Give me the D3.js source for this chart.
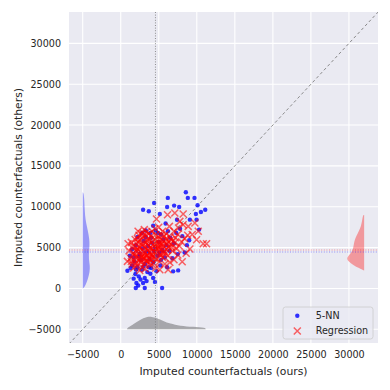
<!DOCTYPE html>
<html>
<head>
<meta charset="utf-8">
<script src="https://cdn.jsdelivr.net/npm/d3@7"></script>
<style>
  html, body { margin: 0; padding: 0; background: #fff; }
  svg { display: block; font-family: "DejaVu Sans", sans-serif; }
</style>
</head>
<body>
<script>
// scatter: imputed counterfactuals, ours (x) vs others (y)
const knnPoints = [
  [8560,11770],[8820,11080],[9700,11080],[6190,11080],[4390,10460],[7020,10140],[7680,9970],[6100,9970],
  [10100,10180],[11110,9640],[10540,9360],[2940,9640],[3690,9440],[5140,9110],[9880,9110],[9090,8420],
  [9970,8420],[4260,7680],[5900,7950],[10300,7200],[7400,8400],
  [880,2170],[1930,1760],[2370,1470],[3160,1270],[4260,1270],[2060,660],[2940,660],[1980,45],[3160,45],
  [5440,45],[6890,2090],[7550,2210],[3500,2000],[2800,2300],[4000,2500],[1500,2800],[2200,2600],[3900,1800],
  [4700,2100],[2600,1100],[3400,900],[1700,1200],[4500,800],[2300,350],
  [1500,4800],[2000,5300],[2500,4200],[3000,5800],[3500,4500],[4000,6200],[4500,5000],[5000,5700],[5500,4700],
  [6000,5300],[6500,6200],[7000,5500],[2700,3500],[3200,3000],[3800,3600],[4300,3200],[4800,4000],[5300,3500],
  [5800,3800],[1800,3300],[2200,6300],[2800,6800],[3300,7100],[3900,6800],[4600,7100],[5300,6600],[6200,7000],
  [7300,6800],[8100,6400],[7500,4200],[8400,4400],[6800,3700],[1200,4000],[9000,5900],[4100,5600],[3600,5200],
  [2400,3900],[5100,4400],[6400,4600],[2000,2300],[1300,2500],[3000,2700],[3700,2600],[5200,2800],[6100,2600],
  [1700,3800],[4400,4600],[5600,6000],[2900,4900],[7800,7300],[8700,5300],[3300,6300],[4900,6800]
];
const regressionPoints = [
  [966,5470],[1400,5640],[2280,6990],[2940,6790],[4700,8500],[6150,9030],[7110,9240],[8210,9110],[7770,8210],
  [8870,7600],[9750,8010],[10190,6990],[9970,5970],[10840,5480],[11280,5480],[9090,4830],[8080,3270],[6450,3190],
  [6230,2290],[5140,2290],[880,3310],[4040,4130],
  [1500,3000],[1800,3500],[2000,4000],[2200,4500],[2500,5000],[2700,3200],[3000,3800],[3200,4300],[3400,4800],
  [3600,5300],[3800,5800],[4000,3500],[4200,4000],[4400,4500],[4600,5000],[4800,5500],[5000,6000],[5200,4200],
  [5400,4700],[5600,5200],[5800,5600],[6000,6100],[6300,5000],[6600,5400],[6900,5800],[7200,6200],[7500,6600],
  [1600,4300],[1900,5100],[2300,5700],[2600,6000],[2900,6300],[3300,6500],[3700,6700],[4100,7000],[4500,7300],
  [5000,7500],[5500,7000],[6000,6700],[2100,2800],[2400,3400],[2800,2600],[3100,3000],[3500,3300],[3900,2800],
  [4300,3100],[4700,3600],[5100,3300],[5500,3800],[5900,4300],[6200,4000],[6800,4600],[7300,4900],[7700,5200],
  [8000,5700],[8400,6100],[8800,6500],[1300,3700],[1100,4600],[1700,2500],[2000,3100],[3000,4600],[3300,5600],
  [3500,4100],[3700,3700],[4100,4900],[4300,5400],[4500,6000],[4900,6400],[5300,6500],[5700,4600],[6100,5400],
  [6500,6300],[7000,7000],[7600,7400],[8200,7800],[2500,2200],[3200,2400],[4600,2500],[5800,3000],[4000,6400],
  [3600,6100],[2700,5400],[2200,4800],[1900,6000],[2400,6500],[3100,7200],[6400,7600],[7000,3500],[7500,4100],
  [8600,4300],[9400,6600],[3800,4400],[4800,4700],[5400,5500],[2900,3600],[3300,3400],[4400,3700],
  [1400,3300],[1800,4200],[2100,3700],[2300,5200],[2600,4500],[2800,3900],[3100,5100],[3400,4000],[3600,4700],
  [3900,5000],[4200,5800],[4400,5200],[4700,4300],[5000,4900],[5200,5300],[5500,5900],[5700,6400],[6000,4800],
  [6300,5700],[6600,6000],[2000,4600],[2500,3700],[2900,4200],[3200,3600],[3500,5800],[3800,3200],[4100,3800],
  [4600,6600],[5100,5600],[5600,4300],[1600,5200],[2200,6100],[2700,6700],[3000,5400],[3400,6900],[4200,4500],
  [4900,5100],[5300,4000],[6700,5000],[7100,5600]
];

// mean reference lines
const oursMean = 4566;
const knnMean = 4460;
const regressionMean = 4706;

// marginal densities: [value, width in data units]
const knnDensity = [
  [11760,0],[11700,120],[11000,200],[10000,250],[9000,300],[8000,440],[7000,700],[6000,880],[5300,900],
  [4500,830],[3600,790],[2800,960],[2000,920],[1200,700],[500,420],[100,180],[0,0]
];
const knnDensityBase = -5000;
const regressionDensity = [
  [9000,0],[8950,200],[7560,350],[6340,1100],[5530,1360],[4710,1450],[4100,1970],[3700,2320],[3280,2060],
  [2880,1450],[2470,660],[2180,0]
];
const regressionDensityBase = 32000;
const oursDensity = [
  [790,0],[1000,250],[1660,610],[2540,1180],[3420,1510],[4070,1550],[4730,1390],[5600,1020],[6480,690],
  [7790,410],[9540,290],[11170,200],[11170,0]
];
const oursDensityBase = -5000;

const ticks = [-5000, 0, 5000, 10000, 15000, 20000, 25000, 30000];
const xDomain = [-6800, 33820];
const yDomain = [-6680, 33840];

const W = 390, H = 390;
const m = { left: 69, right: 12, top: 12, bottom: 47 };

const svg = d3.select("body").append("svg").attr("width", W).attr("height", H);

const x = d3.scaleLinear().domain(xDomain).range([m.left, W - m.right]);
const y = d3.scaleLinear().domain(yDomain).range([H - m.bottom, m.top]);

// background + grid
svg.append("rect")
  .attr("x", m.left).attr("y", m.top)
  .attr("width", W - m.left - m.right).attr("height", H - m.top - m.bottom)
  .attr("fill", "#eaeaf2");

svg.append("defs").append("clipPath").attr("id", "plot")
  .append("rect")
  .attr("x", m.left).attr("y", m.top)
  .attr("width", W - m.left - m.right).attr("height", H - m.top - m.bottom);

const grid = svg.append("g");
grid.selectAll(".gx").data(ticks).join("line")
  .attr("x1", d => x(d)).attr("x2", d => x(d))
  .attr("y1", m.top).attr("y2", H - m.bottom)
  .attr("stroke", "#fff").attr("stroke-width", 1.1);
grid.selectAll(".gy").data(ticks).join("line")
  .attr("y1", d => y(d)).attr("y2", d => y(d))
  .attr("x1", m.left).attr("x2", W - m.right)
  .attr("stroke", "#fff").attr("stroke-width", 1.1);

// axes (labels only, seaborn style)
const fmt = d => d3.format("d")(d).replace("-", "\u2212");
const xAxis = svg.append("g")
  .attr("transform", `translate(0,${H - m.bottom})`)
  .call(d3.axisBottom(x).tickValues(ticks).tickSize(0).tickPadding(8).tickFormat(fmt));
const yAxis = svg.append("g")
  .attr("transform", `translate(${m.left},0)`)
  .call(d3.axisLeft(y).tickValues(ticks).tickSize(0).tickPadding(8).tickFormat(fmt));
[xAxis, yAxis].forEach(a => {
  a.select(".domain").remove();
  a.selectAll("text").attr("fill", "#262626").attr("font-size", 9.6).attr("font-family", "DejaVu Sans");
});

svg.append("text")
  .attr("x", (m.left + W - m.right) / 2).attr("y", 375)
  .attr("text-anchor", "middle").attr("font-size", 10.8).attr("fill", "#262626")
  .text("Imputed counterfactuals (ours)");
svg.append("text")
  .attr("transform", `translate(22,${(m.top + H - m.bottom) / 2}) rotate(-90)`)
  .attr("text-anchor", "middle").attr("font-size", 10.8).attr("fill", "#262626")
  .text("Imputed counterfactuals (others)");

const plot = svg.append("g").attr("clip-path", "url(#plot)");

// marginal densities
const vArea = base => d3.area()
  .y(d => y(d[0]))
  .x0(x(base))
  .x1(d => x(base) + (x(d[1]) - x(0)) * (base > 0 ? -1 : 1))
  .curve(d3.curveBasis);
plot.append("path").datum(knnDensity)
  .attr("d", vArea(knnDensityBase)).attr("fill", "#0000ff").attr("fill-opacity", 0.35);
plot.append("path").datum(regressionDensity)
  .attr("d", vArea(regressionDensityBase)).attr("fill", "#ff0000").attr("fill-opacity", 0.35);
plot.append("path").datum(oursDensity)
  .attr("d", d3.area()
    .x(d => x(d[0]))
    .y0(y(oursDensityBase))
    .y1(d => y(oursDensityBase) - (y(0) - y(d[1])))
    .curve(d3.curveBasis))
  .attr("fill", "#555555").attr("fill-opacity", 0.45);

// diagonal
plot.append("line")
  .attr("x1", x(xDomain[0])).attr("y1", y(xDomain[0]))
  .attr("x2", x(yDomain[1])).attr("y2", y(yDomain[1]))
  .attr("stroke", "#7f7f7f").attr("stroke-width", 0.9).attr("stroke-dasharray", "3,2.5");

// scatter
plot.append("g").selectAll("circle").data(knnPoints).join("circle")
  .attr("cx", d => x(d[0])).attr("cy", d => y(d[1])).attr("r", 2.2)
  .attr("fill", "#0000ff").attr("fill-opacity", 0.8);

const s = 3.5;
plot.append("g").selectAll("path").data(regressionPoints).join("path")
  .attr("d", d => {
    const cx = x(d[0]), cy = y(d[1]);
    return `M${cx - s},${cy - s}L${cx + s},${cy + s}M${cx - s},${cy + s}L${cx + s},${cy - s}`;
  })
  .attr("stroke", "#ff0000").attr("stroke-opacity", 0.6).attr("stroke-width", 1.5);

// mean lines
plot.append("line")
  .attr("x1", x(oursMean)).attr("x2", x(oursMean)).attr("y1", m.top).attr("y2", H - m.bottom)
  .attr("stroke", "#777").attr("stroke-width", 0.8).attr("stroke-dasharray", "1,1.6");
plot.append("line")
  .attr("y1", y(regressionMean)).attr("y2", y(regressionMean)).attr("x1", m.left).attr("x2", W - m.right)
  .attr("stroke", "#ff0000").attr("stroke-opacity", 0.5).attr("stroke-width", 0.8).attr("stroke-dasharray", "1,1.6");
plot.append("line")
  .attr("y1", y(knnMean)).attr("y2", y(knnMean)).attr("x1", m.left).attr("x2", W - m.right)
  .attr("stroke", "#0000ff").attr("stroke-opacity", 0.5).attr("stroke-width", 0.8).attr("stroke-dasharray", "1,1.6");

// legend
const lg = svg.append("g").attr("transform", "translate(283,307)");
lg.append("rect").attr("width", 90).attr("height", 32).attr("rx", 2.5)
  .attr("fill", "#eaeaf2").attr("fill-opacity", 0.8).attr("stroke", "#cccccc").attr("stroke-width", 0.8);
lg.append("circle").attr("cx", 14.3).attr("cy", 8.7).attr("r", 2.2).attr("fill", "#0000ff").attr("fill-opacity", 0.8);
lg.append("path")
  .attr("d", `M${14.3 - s},${24 - s}L${14.3 + s},${24 + s}M${14.3 - s},${24 + s}L${14.3 + s},${24 - s}`)
  .attr("stroke", "#ff0000").attr("stroke-opacity", 0.6).attr("stroke-width", 1.5);
lg.append("text").attr("x", 32.7).attr("y", 8.7).attr("dy", "0.35em")
  .attr("font-size", 9.6).attr("fill", "#262626").text("5-NN");
lg.append("text").attr("x", 32.7).attr("y", 24).attr("dy", "0.35em")
  .attr("font-size", 9.6).attr("fill", "#262626").text("Regression");
</script>
</body>
</html>
